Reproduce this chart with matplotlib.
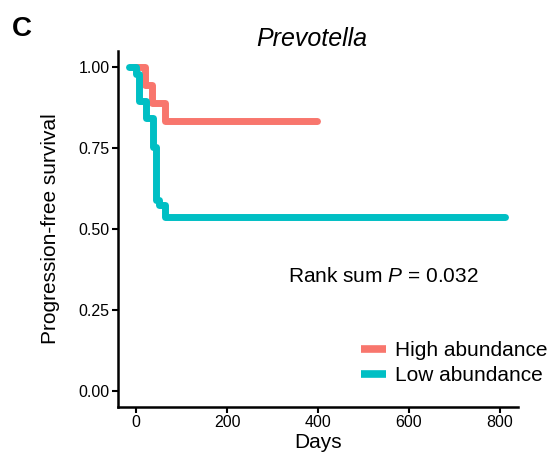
import matplotlib
matplotlib.use('Agg')
import matplotlib.pyplot as plt
from matplotlib.lines import Line2D

plt.rcParams['font.family'] = ['Liberation Sans', 'DejaVu Sans']
plt.rcParams['mathtext.fontset'] = 'custom'
plt.rcParams['mathtext.rm'] = 'Liberation Sans'
plt.rcParams['mathtext.it'] = 'Liberation Sans:italic'

# Kaplan-Meier step data
high_days = [0, 20, 35, 64, 398]
high_surv = [1.0, 0.944, 0.889, 0.833, 0.833]
low_days = [-15, 0, 6, 22, 37, 44, 50, 64, 812]
low_surv = [1.0, 0.98, 0.895, 0.842, 0.753, 0.589, 0.574, 0.537, 0.537]

groups = ['High abundance', 'Low abundance']
colors = ['#F8766D', '#00BFC4']
x_ticks = [0, 200, 400, 600, 800]
y_ticks = [0.0, 0.25, 0.5, 0.75, 1.0]

fig = plt.figure(figsize=(5.53, 4.54), dpi=100)
ax = fig.add_axes([0.2134, 0.1035, 0.7233, 0.7842])

ax.plot(high_days, high_surv, drawstyle='steps-post', color=colors[0], lw=5,
        solid_capstyle='round', solid_joinstyle='round')
ax.plot(low_days, low_surv, drawstyle='steps-post', color=colors[1], lw=5,
        solid_capstyle='round', solid_joinstyle='round')

ax.set_xlim(-40, 840)
ax.set_ylim(-0.05, 1.05)
ax.set_xticks(x_ticks)
ax.set_yticks(y_ticks)
ax.set_yticklabels(['%.2f' % v for v in y_ticks])
ax.tick_params(labelsize=11.5, length=4, width=1.5, color='black', pad=2)
for s in ['top', 'right']:
    ax.spines[s].set_visible(False)
for s in ['left', 'bottom']:
    ax.spines[s].set_linewidth(1.8)

ax.set_xlabel('Days', fontsize=15, labelpad=2)
ax.set_ylabel('Progression-free survival', fontsize=15, labelpad=13)
ax.set_title('Prevotella', fontsize=18, style='italic', pad=2, x=0.485)

ax.text(544, 0.353, r'Rank sum $\mathit{P}$ = 0.032', fontsize=15,
        ha='center', va='center')

fig.text(0.04, 0.936, 'C', fontsize=20, fontweight='bold', ha='center', va='center')

handles = [Line2D([], [], color=c, lw=5.5, solid_capstyle='butt') for c in colors]
fig.legend(handles, groups, loc='upper left', bbox_to_anchor=(0.6528, 0.2490),
           frameon=False, fontsize=15, handlelength=1.2, handletextpad=0.43,
           labelspacing=0.3, borderaxespad=0, borderpad=0)

fig.savefig('out.png', dpi=100)
plt.close()
